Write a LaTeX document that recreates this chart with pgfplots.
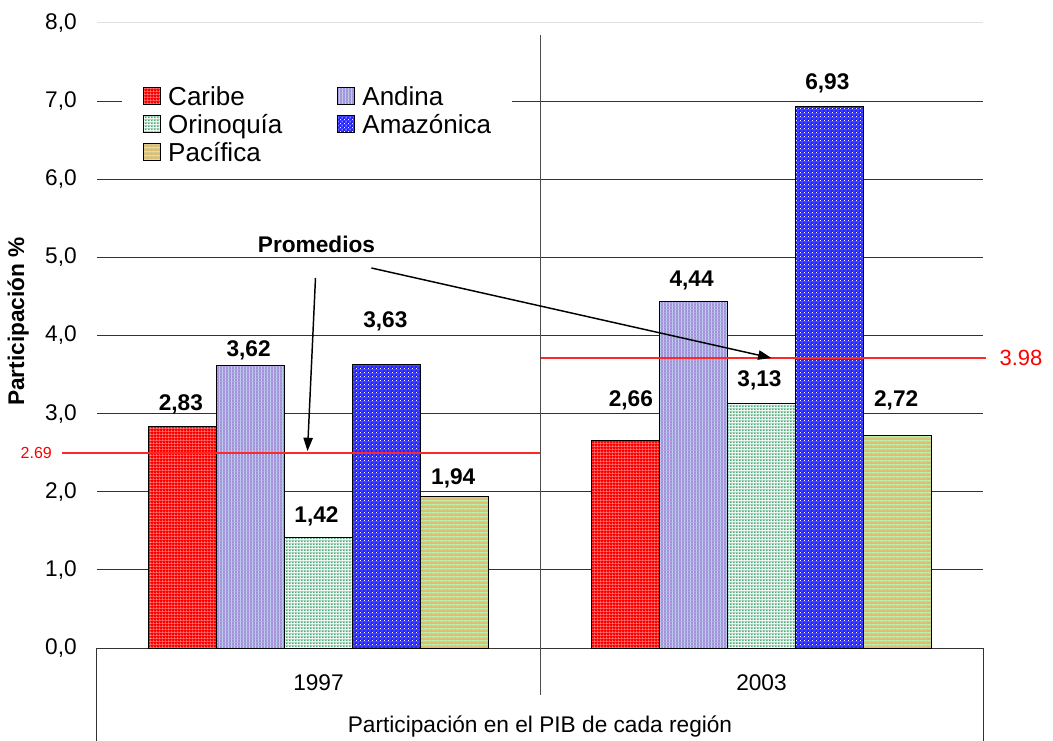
\documentclass[border=0pt]{standalone}
\usepackage{fontspec}
\setmainfont{Liberation Sans}
\usepackage{pgfplots}
\pgfplotsset{compat=1.18}
\usetikzlibrary{patterns,arrows.meta}

\definecolor{carline}{RGB}{255,140,140}
\definecolor{andbase}{RGB}{165,145,218}
\definecolor{andline}{RGB}{200,248,255}
\definecolor{oribase}{RGB}{75,170,120}
\definecolor{amabase}{RGB}{35,35,255}
\definecolor{pacbase}{RGB}{222,190,118}
\definecolor{pacline}{RGB}{188,242,172}
\definecolor{avgred}{RGB}{255,40,40}
% average colours, used under the patterns
\definecolor{andavg}{RGB}{180,175,228}
\definecolor{oriavg}{RGB}{165,212,185}
\definecolor{amaavg}{RGB}{80,80,245}
\definecolor{pacavg}{RGB}{212,208,150}

\pgfdeclarepatterninherentlycolored{caribepat}
  {\pgfpointorigin}{\pgfpoint{2.25pt}{2.25pt}}{\pgfpoint{2.25pt}{2.25pt}}
  {\pgfsetfillcolor{red}
   \pgfpathrectangle{\pgfpointorigin}{\pgfpoint{2.25pt}{2.25pt}}\pgfusepath{fill}
   \pgfsetfillcolor{carline}
   \pgfpathrectangle{\pgfpointorigin}{\pgfpoint{0.5pt}{2.25pt}}\pgfusepath{fill}
   \pgfpathrectangle{\pgfpointorigin}{\pgfpoint{2.25pt}{0.5pt}}\pgfusepath{fill}}
\pgfdeclarepatterninherentlycolored{andinapat}
  {\pgfpointorigin}{\pgfpoint{2.25pt}{2.25pt}}{\pgfpoint{2.25pt}{2.25pt}}
  {\pgfsetfillcolor{andbase}
   \pgfpathrectangle{\pgfpointorigin}{\pgfpoint{2.25pt}{2.25pt}}\pgfusepath{fill}
   \pgfsetfillcolor{andline}
   \pgfpathrectangle{\pgfpointorigin}{\pgfpoint{0.65pt}{2.25pt}}\pgfusepath{fill}}
\pgfdeclarepatterninherentlycolored{orinoquiapat}
  {\pgfpointorigin}{\pgfpoint{2.25pt}{2.25pt}}{\pgfpoint{2.25pt}{2.25pt}}
  {\pgfsetfillcolor{white}
   \pgfpathrectangle{\pgfpointorigin}{\pgfpoint{2.25pt}{2.25pt}}\pgfusepath{fill}
   \pgfsetfillcolor{oribase}
   \pgfpathrectangle{\pgfpoint{0.75pt}{0.75pt}}{\pgfpoint{1.5pt}{1.5pt}}\pgfusepath{fill}}
\pgfdeclarepatterninherentlycolored{amazonicapat}
  {\pgfpointorigin}{\pgfpoint{3pt}{3pt}}{\pgfpoint{3pt}{3pt}}
  {\pgfsetfillcolor{amabase}
   \pgfpathrectangle{\pgfpointorigin}{\pgfpoint{3pt}{3pt}}\pgfusepath{fill}
   \pgfsetfillcolor{white}
   \pgfpathrectangle{\pgfpointorigin}{\pgfpoint{0.75pt}{0.75pt}}\pgfusepath{fill}
   \pgfpathrectangle{\pgfpoint{1.5pt}{1.5pt}}{\pgfpoint{0.75pt}{0.75pt}}\pgfusepath{fill}}
\pgfdeclarepatterninherentlycolored{pacificapat}
  {\pgfpointorigin}{\pgfpoint{3pt}{3pt}}{\pgfpoint{3pt}{3pt}}
  {\pgfsetfillcolor{pacbase}
   \pgfpathrectangle{\pgfpointorigin}{\pgfpoint{3pt}{3pt}}\pgfusepath{fill}
   \pgfsetfillcolor{pacline}
   \pgfpathrectangle{\pgfpointorigin}{\pgfpoint{3pt}{0.75pt}}\pgfusepath{fill}}

\tikzset{
  caribe/.style={fill=red, postaction={pattern=caribepat}},
  andina/.style={fill=andavg, postaction={pattern=andinapat}},
  orinoquia/.style={fill=oriavg, postaction={pattern=orinoquiapat}},
  amazonica/.style={fill=amaavg, postaction={pattern=amazonicapat}},
  pacifica/.style={fill=pacavg, postaction={pattern=pacificapat}},
  lab/.style={font=\bfseries\fontsize{17}{20}\selectfont},
}

\begin{document}
\begin{tikzpicture}
\begin{axis}[
  at={(72.75pt,69pt)}, anchor=south west,
  scale only axis, width=664.5pt, height=468.75pt,
  xmin=-0.5, xmax=1.5, ymin=0, ymax=8,
  ybar=0pt, bar width=51pt,
  xtick={0,1}, xticklabels={1997,2003},
  ytick={0,1,...,7},
  extra y ticks={8},
  extra y tick style={major grid style={black!12, line width=0.75pt}},
  ymajorgrids, major grid style={black!80, line width=0.75pt},
  major tick length=0pt,
  axis line style={draw=none},
  tick label style={font=\fontsize{17}{20}\selectfont},
  /pgf/number format/assume math mode=true,
  /pgf/number format/fixed,
  /pgf/number format/fixed zerofill,
  /pgf/number format/precision=1,
  /pgf/number format/use comma,
  yticklabel style={anchor=east, inner sep=0pt, xshift=-15pt},
  xticklabel style={anchor=center, inner sep=0pt, yshift=-26.25pt},
  clip=false,
  legend columns=2,
  legend cell align=left,
  legend image code/.code={\draw[#1,draw=black,line width=0.75pt] (0pt,-6.375pt) rectangle (12.75pt,6.375pt);},
  legend style={at={(axis cs:-0.4444,7.296)}, anchor=north west, draw=none, fill=white,
    font=\fontsize{19.5}{21}\selectfont, inner xsep=16pt, inner ysep=3pt, row sep=0pt,
    nodes={inner sep=0pt, text height=17.5pt, text depth=3.5pt},
    /tikz/every odd column/.append style={column sep=5.25pt},
    /tikz/every even column/.append style={column sep=41.25pt}},
]
\addplot[draw=black, line width=0.75pt, caribe] coordinates {(0,2.83) (1,2.66)};
\addlegendentry{Caribe}
\addplot[draw=black, line width=0.75pt, andina] coordinates {(0,3.62) (1,4.44)};
\addlegendentry{Andina}
\addplot[draw=black, line width=0.75pt, orinoquia] coordinates {(0,1.42) (1,3.13)};
\addlegendentry{Orinoquía}
\addplot[draw=black, line width=0.75pt, amazonica] coordinates {(0,3.63) (1,6.93)};
\addlegendentry{Amazónica}
\addplot[draw=black, line width=0.75pt, pacifica] coordinates {(0,1.94) (1,2.72)};
\addlegendentry{Pacífica}

% average lines (drawn where the reference draws them)
\addplot[avgred, line width=0.9pt, sharp plot, no marks, forget plot] coordinates {(-0.579,2.496) (0.5,2.496)};
\addplot[avgred, line width=1.4pt, sharp plot, no marks, forget plot] coordinates {(0.502,3.712) (1.507,3.712)};

% value labels
\node[lab] at (axis cs:-0.3108,3.123) {2,83};
\node[lab] at (axis cs:-0.1577,3.814) {3,62};
\node[lab] at (axis cs:-0.0045,1.690) {1,42};
\node[lab] at (axis cs:0.1509,4.186) {3,63};
\node[lab] at (axis cs:0.3041,2.176) {1,94};
\node[lab] at (axis cs:0.705,3.174) {2,66};
\node[lab] at (axis cs:0.8423,4.710) {4,44};
\node[lab] at (axis cs:0.9955,3.430) {3,13};
\node[lab] at (axis cs:1.1486,7.232) {6,93};
\node[lab] at (axis cs:1.304,3.174) {2,72};

% separator and category box
\draw[black!70, line width=0.75pt] (axis cs:0.5,7.846) -- (axis cs:0.5,-0.6);
\draw[black!80, line width=0.75pt] (axis cs:-0.5,0) -- (axis cs:-0.5,-1.2);
\draw[black!80, line width=0.75pt] (axis cs:1.5,0) -- (axis cs:1.5,-1.2);
\node[font=\fontsize{17}{20}\selectfont] at (axis cs:0.5,-1.011) {Participación en el PIB de cada región};
\node[rotate=90, lab] at (axis cs:-0.678,4.18) {Participación \%};

\node[red, font=\fontsize{12}{14}\selectfont] at (axis cs:-0.637,2.5) {2.69};
\node[red, font=\fontsize{16.5}{19}\selectfont] at (axis cs:1.5856,3.712) {3.98};

% annotation
\node[lab] at (axis cs:-0.0045,5.171) {Promedios};
\draw[line width=1.1pt, -{Triangle[length=10pt,width=7pt]}] (axis cs:-0.0068,4.736) -- (axis cs:-0.0248,2.52);
\draw[line width=1.1pt, -{Triangle[length=10pt,width=7pt]}] (axis cs:0.1194,4.864) -- (axis cs:1.0225,3.712);
\end{axis}
\pgfresetboundingbox
\useasboundingbox (0,0) rectangle (789.75pt,555pt);
\end{tikzpicture}
\end{document}
